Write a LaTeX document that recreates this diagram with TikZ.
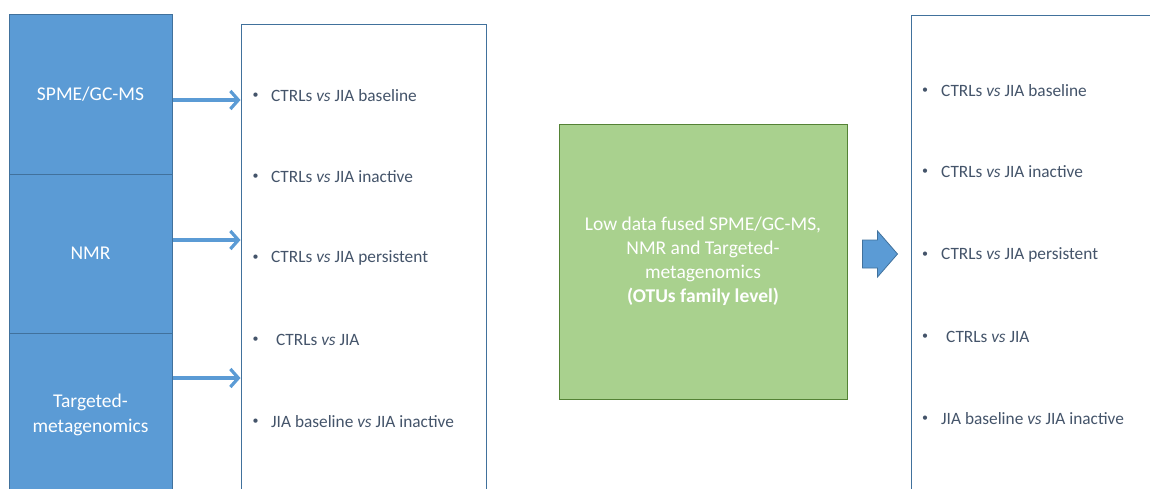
\documentclass[tikz,border=0pt]{standalone}
\usepackage{fontspec}
\setmainfont{Carlito}
\usetikzlibrary{arrows.meta}
\definecolor{cellblue}{HTML}{5B9BD5}
\definecolor{edgeblue}{HTML}{41719C}
\definecolor{greenfill}{HTML}{A9D18E}
\definecolor{greenedge}{HTML}{548235}
\definecolor{itemtext}{HTML}{44546A}
\tikzset{
  cell/.style={draw=edgeblue, fill=cellblue, line width=1pt, text=white, align=center,
    minimum width=163pt, inner sep=0pt, font=\fontsize{19.5}{25}\selectfont},
  listbox/.style={draw=edgeblue, fill=white, line width=1pt, inner sep=0pt},
  fused/.style={draw=greenedge, fill=greenfill, line width=1pt, text=white, align=center,
    inner sep=0pt, minimum width=288pt, minimum height=275pt, font=\fontsize{19.5}{24}\selectfont},
  item/.style={anchor=west, inner sep=0pt, text=itemtext, font=\fontsize{17.3}{20}\selectfont},
  bulletmark/.style={inner sep=0pt, text=itemtext, font=\fontsize{12}{14}\selectfont},
  conn/.style={draw=cellblue, line width=3.2pt, -{Straight Barb[length=8pt,width=18pt,line width=3.2pt]}},
  blockarrow/.style={fill=cellblue, draw=edgeblue, line width=0.8pt},
}
\begin{document}
\begin{tikzpicture}[x=1pt,y=-1pt]
\useasboundingbox (0,0) rectangle (1150,488);
\clip (0,0) rectangle (1150,488);
% left column
\node[cell, minimum height=160pt] (spme) at (90.5,94) {SPME/GC-MS};
\node[cell, minimum height=159pt] (nmr) at (90.5,253.5) {NMR};
\node[cell, minimum height=167pt] (targ) at (90.5,416.5) {};
\node[text=white, align=center, inner sep=0pt, font=\fontsize{19.5}{25}\selectfont] (targlbl) at (90.5,415) {Targeted-\\metagenomics};
% left list
\node[listbox, minimum width=245pt, minimum height=476pt] (listL) at (363.5,262) {};
% connectors
\draw[conn] ([yshift=-6pt]spme.east) -- ([yshift=-6pt]spme.east -| listL.west);
\draw[conn] ([yshift=13.5pt]nmr.east) -- ([yshift=13.5pt]nmr.east -| listL.west);
\draw[conn] ([yshift=38.5pt]targ.east) -- ([yshift=38.5pt]targ.east -| listL.west);
% left items
\foreach \y/\t/\n in {96/{CTRLs \textit{vs} JIA baseline}/a,
                      177/{CTRLs \textit{vs} JIA inactive}/b,
                      258/{CTRLs \textit{vs} JIA persistent}/c,
                      340/{\hspace{5pt}CTRLs \textit{vs} JIA}/d,
                      422/{JIA baseline \textit{vs} JIA inactive}/e}{
  \node[bulletmark] (Lb\n) at (255.5,\y) {\textbullet};
  \node[item] (Lt\n) at (271,\y) {\t};
}
% green box
\node[fused] (fuse) at (703,261.5) {Low data fused SPME/GC-MS,\\NMR and Targeted-\\metagenomics\\\textbf{(OTUs family level)}};
% right list
\node[listbox, minimum width=249pt, minimum height=485pt] (listR) at (1035.5,257.5) {};
% block arrow
\coordinate (ba) at ([xshift=15pt,yshift=7.5pt]fuse.east);
\draw[blockarrow] (ba) ++(0,-14) -- ++(15,0) -- ++(0,-9) -- ++(20,23) -- ++(-20,23) -- ++(0,-9) -- ++(-15,0) -- cycle;
% right items
\foreach \y/\t/\n in {91/{CTRLs \textit{vs} JIA baseline}/a,
                      172/{CTRLs \textit{vs} JIA inactive}/b,
                      255/{CTRLs \textit{vs} JIA persistent}/c,
                      337/{\hspace{5pt}CTRLs \textit{vs} JIA}/d,
                      419/{JIA baseline \textit{vs} JIA inactive}/e}{
  \node[bulletmark] (Rb\n) at (925,\y) {\textbullet};
  \node[item] (Rt\n) at (941,\y) {\t};
}
\end{tikzpicture}
\end{document}
